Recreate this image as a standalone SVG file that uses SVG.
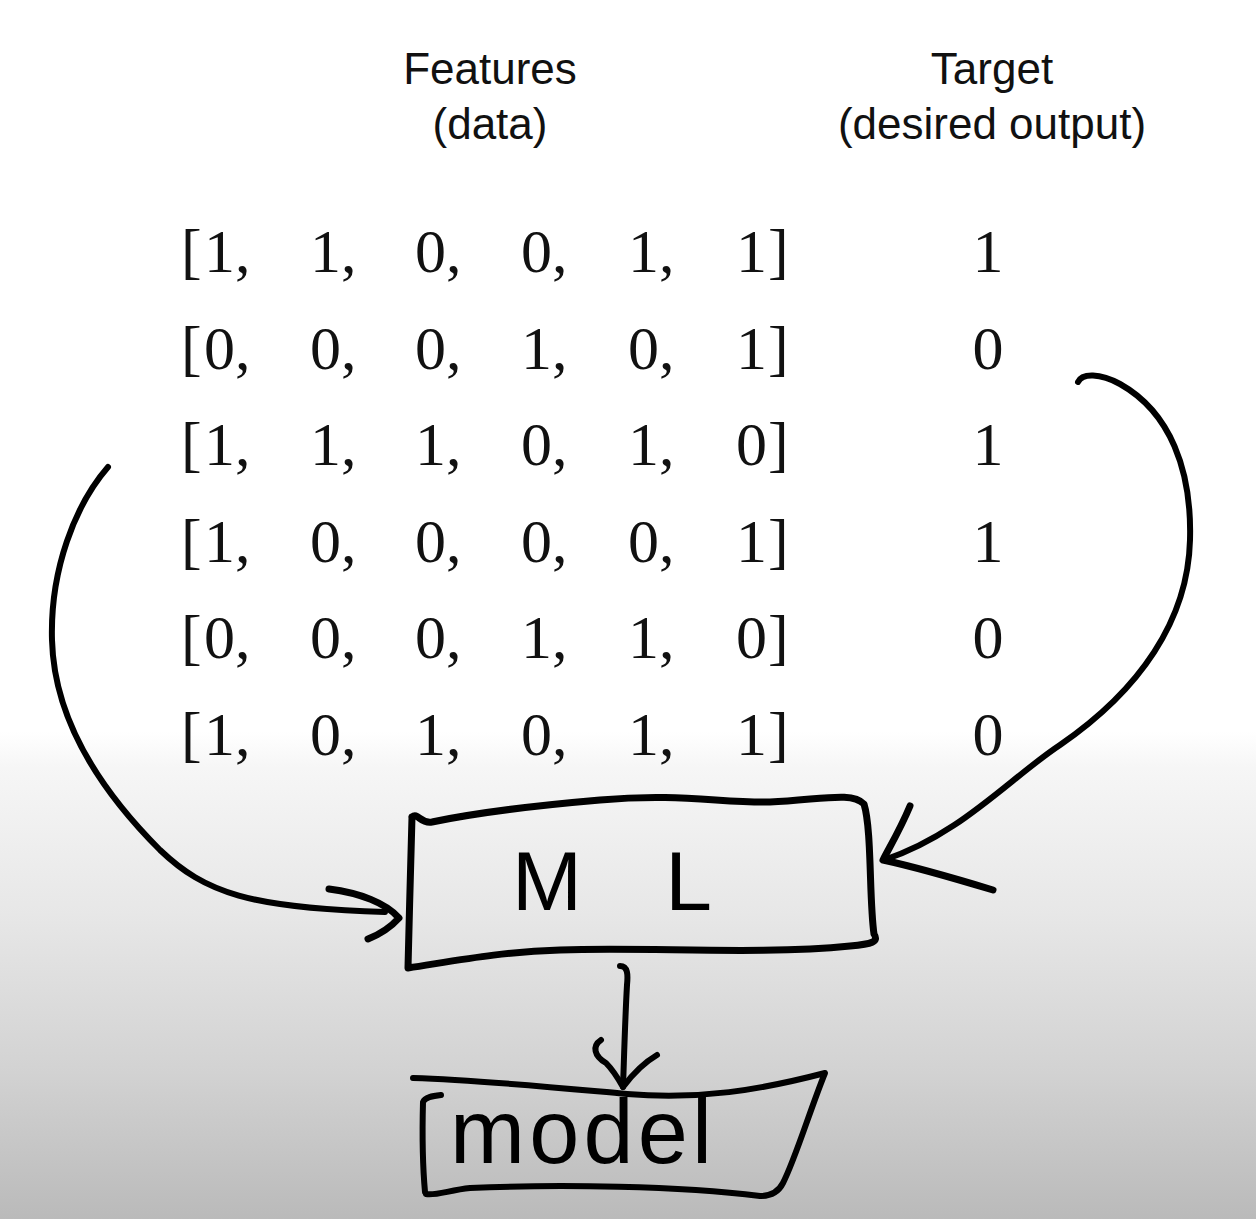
<svg xmlns="http://www.w3.org/2000/svg" width="1256" height="1219" viewBox="0 0 1256 1219">
<defs>
<linearGradient id="bg" x1="0" y1="0" x2="0" y2="1219" gradientUnits="userSpaceOnUse">
<stop offset="0" stop-color="#ffffff"/>
<stop offset="0.6" stop-color="#ffffff"/>
<stop offset="0.63" stop-color="#f6f6f6"/>
<stop offset="0.75" stop-color="#e7e7e7"/>
<stop offset="0.88" stop-color="#d2d2d2"/>
<stop offset="1" stop-color="#bababa"/>
</linearGradient>
</defs>
<style>
.hdr{font-family:"Liberation Sans",Arial,sans-serif;font-size:44px;fill:#111;text-anchor:middle}
.num{font-family:"Liberation Serif","Times New Roman",serif;font-size:62px;fill:#111}
.tgt{font-family:"Liberation Serif","Times New Roman",serif;font-size:62px;fill:#111;text-anchor:middle}
.ink{fill:none;stroke:#000;stroke-width:6;stroke-linecap:round;stroke-linejoin:round}
.thick{stroke-width:7}
.hand{font-family:"Liberation Sans",Arial,sans-serif;fill:#000}
</style>
<rect width="1256" height="1219" fill="url(#bg)"/>

<g id="header-features">
<text class="hdr" x="490" y="84">Features</text>
<text class="hdr" x="490" y="139">(data)</text>
</g>
<g id="header-target">
<text class="hdr" x="992" y="84">Target</text>
<text class="hdr" x="992" y="139">(desired output)</text>
</g>

<g id="features-matrix" class="num">
<g id="row1"><text x="181" y="272">[</text><text x="204" y="272">1,</text><text x="310" y="272">1,</text><text x="415" y="272">0,</text><text x="521" y="272">0,</text><text x="628" y="272">1,</text><text x="736" y="272">1</text><text x="768" y="272">]</text></g>
<g id="row2"><text x="181" y="369">[</text><text x="204" y="369">0,</text><text x="310" y="369">0,</text><text x="415" y="369">0,</text><text x="521" y="369">1,</text><text x="628" y="369">0,</text><text x="736" y="369">1</text><text x="768" y="369">]</text></g>
<g id="row3"><text x="181" y="465">[</text><text x="204" y="465">1,</text><text x="310" y="465">1,</text><text x="415" y="465">1,</text><text x="521" y="465">0,</text><text x="628" y="465">1,</text><text x="736" y="465">0</text><text x="768" y="465">]</text></g>
<g id="row4"><text x="181" y="562">[</text><text x="204" y="562">1,</text><text x="310" y="562">0,</text><text x="415" y="562">0,</text><text x="521" y="562">0,</text><text x="628" y="562">0,</text><text x="736" y="562">1</text><text x="768" y="562">]</text></g>
<g id="row5"><text x="181" y="658">[</text><text x="204" y="658">0,</text><text x="310" y="658">0,</text><text x="415" y="658">0,</text><text x="521" y="658">1,</text><text x="628" y="658">1,</text><text x="736" y="658">0</text><text x="768" y="658">]</text></g>
<g id="row6"><text x="181" y="755">[</text><text x="204" y="755">1,</text><text x="310" y="755">0,</text><text x="415" y="755">1,</text><text x="521" y="755">0,</text><text x="628" y="755">1,</text><text x="736" y="755">1</text><text x="768" y="755">]</text></g>
</g>

<g id="target-values" class="tgt">
<text x="988" y="272">1</text>
<text x="988" y="369">0</text>
<text x="988" y="465">1</text>
<text x="988" y="562">1</text>
<text x="988" y="658">0</text>
<text x="988" y="755">0</text>
</g>

<g id="node-ml">
<path class="ink thick" d="M412,817 C418,812 420,824 432,822 C480,812 530,806 600,800 C680,793 720,803 770,802 C820,800 852,791 864,804 C872,830 869,900 874,934 C879,942 872,944 850,946 C760,955 650,947 560,950 C500,952 460,960 408,968 C409,920 411,860 412,817"/>
<text class="hand" x="512" y="910" font-size="84" textLength="200" lengthAdjust="spacing">ML</text>
</g>

<g id="node-model">
<path class="ink" d="M413,1078 C480,1080 560,1088 627,1094 C700,1100 760,1090 825,1073 C810,1110 795,1160 783,1183 C778,1193 770,1196 760,1196 C680,1186 560,1184 470,1188 C450,1190 435,1196 426,1194"/>
<path class="ink" d="M441,1095 C432,1096 425,1097 423,1102 C422,1140 423,1170 425,1192"/>
<text class="hand" x="450" y="1163" font-size="90" textLength="262" lengthAdjust="spacing">model</text>
</g>

<g id="connectors">
<path class="ink" d="M108,467 C75,505 50,570 52,640 C54,720 100,790 160,850 C205,893 250,908 385,912"/>
<path class="ink thick" d="M329,889 C360,893 386,903 399,918 C390,928 378,935 368,939"/>
<path class="ink" d="M1078,382 C1082,373 1100,373 1120,384 C1170,412 1192,470 1190,540 C1188,620 1140,690 1060,745 C1010,778 960,835 884,860"/>
<path class="ink thick" d="M910,806 C900,830 889,848 883,860 C920,868 960,880 993,890"/>
<path class="ink" d="M620,966 C628,966 628,975 627,985 C625,1020 624,1060 623,1087"/>
<path class="ink" d="M601,1040 C592,1046 594,1056 606,1063 C613,1070 619,1080 623,1087 C632,1075 645,1062 657,1055"/>
</g>
</svg>
